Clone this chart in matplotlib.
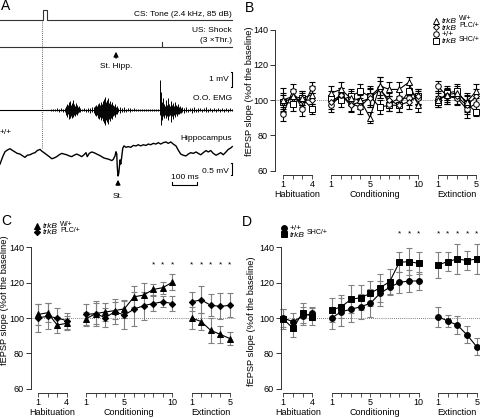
import numpy as np
import matplotlib
matplotlib.use('Agg')
from matplotlib import pyplot as plt
from matplotlib.lines import Line2D
from matplotlib.transforms import blended_transform_factory

plt.rcParams['font.family'] = ['Liberation Sans', 'DejaVu Sans']

W, H = 480, 418

# ---------------- panel A traces (time in ms, amplitude in mV) ----------------
cs_on_ms, cs_off_ms = 172, 188
shock_ms = 648
stim_hipp_ms = 464
stim_ms = 472
trace_end_ms = 928

hipp_t = [0, 11, 20, 29, 40, 51, 60, 69, 80, 91, 100, 109, 120, 131, 140, 149, 160, 168, 176, 187,
          197, 207, 216, 227, 237, 247, 256, 267, 277, 287, 296, 307, 317, 327, 336, 344, 349, 357, 367, 376,
          387, 397, 407, 416, 427, 437, 447, 453, 460, 464, 467, 469, 472, 475, 477, 480, 483, 487, 491, 496,
          504, 513, 523, 533, 544, 553, 563, 573, 584, 593, 603, 613, 624, 633, 643, 653, 664, 673, 683, 693,
          704, 713, 723, 733, 744, 753, 763, 773, 784, 793, 803, 813, 824, 833, 843, 853, 864, 873, 883, 893,
          904, 913, 923, 929]
hipp_mv = [-0.39, -0.07, 0.14, 0.21, 0.27, 0.19, 0.13, 0.07, 0.04, -0.04, -0.10, -0.01, 0.01, 0.07, 0.10, 0.19,
           0.24, 0.16, 0.10, 0.01, -0.07, -0.16, -0.13, -0.07, 0.01, 0.07, 0.04, 0.01, -0.04, -0.07, -0.01, 0.04,
           -0.01, -0.07, 0.01, 0.10, -0.07, 0.07, 0.13, 0.10, 0.04, -0.01, -0.07, -0.13, -0.16, -0.19, -0.24, -0.19,
           -0.04, 0.14, 0.04, -0.50, -0.90, -0.79, -0.57, -0.21, -0.39, -0.07, 0.29, 0.39, 0.33, 0.36, 0.33, 0.41,
           0.39, 0.44, 0.39, 0.44, 0.41, 0.47, 0.44, 0.50, 0.47, 0.53, 0.47, 0.53, 0.56, 0.50, 0.56, 0.47,
           0.39, 0.21, 0.04, -0.01, -0.04, 0.04, 0.10, 0.07, 0.13, 0.07, 0.01, 0.10, 0.19, 0.13, 0.19, 0.07,
           -0.01, 0.04, 0.10, 0.01, 0.13, 0.24, 0.30, 0.36]

emg_pre_t = [204, 212, 220, 228, 236, 244, 252]
emg_pre_up = [0.07, 0.1, 0.07, 0.14, 0.1, 0.14, 0.1]
emg_pre_dn = [0.07, 0.07, 0.1, 0.1, 0.14, 0.1, 0.14]
emg_b1_t = [260, 264, 268, 272, 276, 280, 284, 288, 292, 296, 300, 304, 308, 312, 316, 320]
emg_b1_up = [0.14, 0.28, 0.42, 0.35, 0.56, 0.63, 0.35, 0.49, 0.70, 0.42, 0.28, 0.49, 0.35, 0.21, 0.28, 0.14]
emg_b1_dn = [0.14, 0.35, 0.49, 0.28, 0.63, 0.56, 0.42, 0.56, 0.49, 0.35, 0.42, 0.28, 0.35, 0.21, 0.14, 0.14]
emg_gap_t = [328, 336, 344, 352, 360, 368]
emg_gap_up = [0.1, 0.14, 0.1, 0.17, 0.14, 0.2]
emg_gap_dn = [0.1, 0.1, 0.14, 0.14, 0.2, 0.17]
emg_b2_t = [376, 380, 384, 388, 392, 396, 400, 404, 408, 412, 416, 420, 424, 428, 432, 436, 440, 444, 448,
            452, 456, 460, 464, 468, 472]
emg_b2_up = [0.21, 0.28, 0.35, 0.28, 0.42, 0.49, 0.35, 0.56, 0.42, 0.63, 0.77, 0.91, 0.56, 0.70, 0.84, 0.49,
             0.63, 0.42, 0.56, 0.35, 0.28, 0.42, 0.21, 0.28, 0.14]
emg_b2_dn = [0.21, 0.35, 0.42, 0.35, 0.56, 0.63, 0.49, 0.70, 0.56, 0.77, 0.91, 1.05, 0.70, 0.84, 0.98, 0.63,
             0.77, 0.56, 0.63, 0.42, 0.35, 0.49, 0.28, 0.28, 0.14]
emg_mid_t = [480, 488, 496, 504, 512, 520, 528, 536, 544, 552, 560, 568, 576, 584, 592, 600, 608, 616, 624, 632]
emg_mid_up = [0.21, 0.14, 0.2, 0.1, 0.14, 0.17, 0.1, 0.14, 0.1, 0.07, 0.1, 0.07, 0.05, 0.07, 0.05, 0.05,
              0.05, 0.07, 0.05, 0.07]
emg_mid_dn = [0.2, 0.17, 0.14, 0.14, 0.1, 0.14, 0.1, 0.1, 0.07, 0.1, 0.07, 0.05, 0.07, 0.05, 0.05, 0.05,
              0.07, 0.05, 0.05, 0.05]
emg_us_t = [640, 644, 648, 652, 656, 660, 664, 668, 672, 676, 680, 684, 688, 692, 696, 700, 704, 708, 712,
            716, 720, 724]
emg_us_up = [2.1, 1.26, 0.56, 0.84, 0.42, 0.28, 0.7, 0.35, 0.84, 0.42, 0.28, 0.63, 0.35, 0.49, 0.28, 0.56,
             0.35, 0.28, 0.42, 0.21, 0.28, 0.14]
emg_us_dn = [0.35, 1.05, 0.7, 0.42, 0.56, 0.35, 0.56, 0.42, 0.7, 0.42, 0.35, 0.84, 0.42, 0.63, 0.35, 0.49,
             0.28, 0.42, 0.28, 0.28, 0.21, 0.21]
emg_tail_t = [728, 736, 744, 752, 760, 768, 776, 784, 792, 800, 808, 816, 824, 832, 840, 848, 856, 864, 872,
              880, 888, 896, 904, 912, 920, 928]
emg_tail_up = [0.2, 0.14, 0.21, 0.1, 0.17, 0.14, 0.2, 0.1, 0.14, 0.17, 0.1, 0.14, 0.2, 0.1, 0.14, 0.1, 0.17,
               0.1, 0.14, 0.1, 0.12, 0.1, 0.14, 0.1, 0.12, 0.1]
emg_tail_dn = [0.17, 0.2, 0.14, 0.17, 0.1, 0.2, 0.14, 0.14, 0.17, 0.1, 0.14, 0.1, 0.17, 0.14, 0.1, 0.14, 0.1,
               0.14, 0.1, 0.12, 0.1, 0.14, 0.1, 0.12, 0.1, 0.1]

# ---------------- panels B-D: fEPSP slope (% of baseline) ----------------
hab_sessions = [1, 2, 3, 4]
cond_sessions = [1, 2, 3, 4, 5, 6, 7, 8, 9, 10]
ext_sessions = [1, 2, 3, 4, 5]
group_names = ['Habituation', 'Conditioning', 'Extinction']
group_ticklabels = [[1, 4], [1, 5, 10], [1, 5]]

# panel B (all four genotypes)
b_w = [100, 102, 101, 103, 104, 106, 101, 100, 90, 108, 106, 106, 110, 97, 100, 103, 104, 99, 105]
b_w_err = [7, 4, 4, 5, 4, 4, 4, 5, 3, 5, 4, 4, 3, 4, 4, 4, 4, 5, 4]
b_plc = [99, 101, 100, 100, 99, 103, 97, 99, 101, 106, 100, 97, 99, 102, 101, 102, 102, 97, 102]
b_plc_err = [5, 4, 4, 4, 4, 4, 4, 4, 5, 5, 4, 4, 4, 4, 4, 4, 4, 5, 4]
b_wt = [92, 105, 95, 107, 97, 103, 98, 96, 102, 107, 98, 101, 101, 101, 108, 102, 101, 95, 98]
b_wt_err = [4, 4, 4, 3, 4, 4, 4, 4, 6, 6, 4, 4, 4, 4, 3, 4, 4, 5, 4]
b_shc = [99, 98, 101, 95, 101, 100, 102, 105, 102, 96, 97, 97, 105, 102, 99, 104, 105, 98, 93]
b_shc_err = [4, 4, 4, 3, 4, 4, 4, 4, 5, 4, 3, 4, 4, 4, 3, 4, 4, 5, 2]

# panel C
c_w = [102, 103, 96, 97, 99.5, 102.5, 103.4, 104.2, 105.2, 112, 113, 116.2, 117.2, 120.3, 100, 98, 93, 90.7, 88.3]
c_w_err = [6, 5.5, 4.5, 4, 4, 6, 5, 5, 5, 6, 7, 3, 3.5, 4.5, 6, 5, 7, 5, 3.8]
c_plc = [100, 101, 100, 98.5, 102, 102.5, 100.2, 103.5, 101.7, 105, 107, 108.2, 109.2, 108.2, 109.2, 110.3, 107.2,
         106.6, 107.2]
c_plc_err = [8, 7.5, 5.5, 4.5, 6, 7, 5.5, 7, 8, 9.5, 8, 4, 3, 4.5, 5.5, 7.6, 6.2, 7.4, 6.8]
c_sig = [('cond', 8), ('cond', 9), ('cond', 10), ('ext', 1), ('ext', 2), ('ext', 3), ('ext', 4), ('ext', 5)]

# panel D
d_wt = [100, 97.9, 101.1, 102.6, 100, 103.6, 104.9, 106.4, 108.3, 114, 117.4, 120.2, 121, 121, 100.8, 98.3, 96,
        90.4, 83.7]
d_wt_err = [5, 4.7, 5, 3.8, 6.4, 8, 7, 7, 8, 7, 4.5, 6, 6, 5, 5.7, 3.3, 5, 4.8, 4.7]
d_shc = [99.5, 94.1, 103, 100.8, 104.5, 106.4, 110.6, 111.5, 114, 117.2, 120.6, 131.6, 132, 131, 130.1, 132,
         133.5, 132.6, 133.5]
d_shc_err = [5.5, 4.7, 5.7, 4.8, 7, 6.6, 8, 7.2, 7.2, 8, 7, 5.7, 7.5, 6.3, 7.5, 5.6, 8.3, 5.4, 8.3]
d_sig = [('cond', 8), ('cond', 9), ('cond', 10), ('ext', 1), ('ext', 2), ('ext', 3), ('ext', 4), ('ext', 5)]

# legend labels: (italic gene name, superscript allele)
LBL_W = ('trkB', 'W/+')
LBL_PLC = ('trkB', 'PLC/+')
LBL_WT = ('', '+/+')
LBL_SHC = ('trkB', 'SHC/+')

# group starts on a shared axis: 2-unit gap between phases
group_start = {'hab': 1, 'cond': 6, 'ext': 17}
hab_x = [group_start['hab'] + s - 1 for s in hab_sessions]
cond_x = [group_start['cond'] + s - 1 for s in cond_sessions]
ext_x = [group_start['ext'] + s - 1 for s in ext_sessions]
groups_x = [hab_x, cond_x, ext_x]
PX_PER_UNIT = 1.7625  # vertical pixels per % unit


def fx(px):
    return px / W


def fy(py):
    return 1 - py / H


def make_axes(left, right, y100, xlo, xhi):
    top = y100 - 50 * PX_PER_UNIT
    bottom = y100 + 55 * PX_PER_UNIT
    ax = fig.add_axes([fx(left), fy(bottom), fx(right - left), (bottom - top) / H])
    ax.set_xlim(xlo, xhi)
    ax.set_ylim(45, 150)
    for s in ['top', 'right', 'bottom']:
        ax.spines[s].set_visible(False)
    ax.spines['left'].set_bounds(60, 140)
    ax.spines['left'].set_linewidth(0.7)
    ax.spines['left'].set_color('#333333')
    ax.set_yticks([60, 80, 100, 120, 140])
    ax.tick_params(axis='y', length=3.5, width=0.7, pad=1.5, labelsize=6.5, colors='#333333')
    ax.tick_params(axis='y', labelcolor='black')
    ax.set_xticks([])
    ax.patch.set_alpha(0)
    ax.axhline(100, color='#555555', lw=0.6, ls=(0, (1, 1.5)), zorder=0)
    # phase axes below the data
    for xs, name, labs in zip(groups_x, group_names, group_ticklabels):
        ax.plot([xs[0], xs[-1]], [57.3, 57.3], color='#333333', lw=0.7, clip_on=False)
        ax.vlines(xs, 55.3, 57.3, color='#333333', lw=0.6, clip_on=False)
        for lab in labs:
            ax.text(xs[lab - 1], 52.3, str(lab), ha='center', va='center', fontsize=6.5)
        ax.text((xs[0] + xs[-1]) / 2, 46.5, name, ha='center', va='center', fontsize=6.5)
    return ax


def plot_series(ax, y, err, marker, ms, filled, ecolor):
    for xs, sl in zip(groups_x, [slice(0, 4), slice(4, 14), slice(14, 19)]):
        ax.errorbar(xs, y[sl], yerr=err[sl], fmt='none', ecolor=ecolor, elinewidth=0.8,
                    capsize=2, capthick=0.8, zorder=2, clip_on=False)
        ax.plot(xs, y[sl], color='black', lw=0.8, marker=marker, ms=ms,
                mfc='black' if filled else 'white', mec='black', mew=0.7, zorder=3, clip_on=False)


def add_ylabel(ax, xa, yv):
    tr = blended_transform_factory(ax.transAxes, ax.transData)
    ax.text(xa, yv, 'fEPSP slope (%of the baseline)', transform=tr, rotation=90,
            ha='center', va='center', fontsize=6.7)


def legend_rows(rows, x_marker, x_text, filled):
    for marker, ms, (gene, allele), ypx in rows:
        fig.add_artist(Line2D([fx(x_marker)], [fy(ypx)], marker=marker, ms=ms, ls='none',
                              mfc='black' if filled else 'white', mec='black', mew=0.7,
                              transform=fig.transFigure))
        if gene:
            fig.text(fx(x_text), fy(ypx + 2.5), gene, ha='left', va='baseline', fontsize=6, style='italic')
            fig.text(fx(x_text + 17), fy(ypx), allele, ha='left', va='baseline', fontsize=5)
        else:
            fig.text(fx(x_text), fy(ypx + 2.5), allele, ha='left', va='baseline', fontsize=6)


fig = plt.figure(figsize=(4.8, 4.18), dpi=100)

# ---------------- panel A ----------------
ax_a = fig.add_axes([0, fy(200), fx(240), 200 / H])
ax_a.set_xlim(0, 960)
ax_a.set_ylim(200, 0)
ax_a.axis('off')
tone_y, shock_y, emg_y, hipp_y = 20, 47, 110, 155
emg_px_per_mv, hipp_px_per_mv = 14.3, 23.3
ax_a.plot([0, cs_on_ms, cs_on_ms, cs_off_ms, cs_off_ms, trace_end_ms],
          [tone_y, tone_y, tone_y - 10, tone_y - 10, tone_y, tone_y], color='#333333', lw=0.8)
ax_a.plot([0, trace_end_ms], [shock_y, shock_y], color='#333333', lw=0.8)
ax_a.plot([shock_ms, shock_ms], [shock_y, shock_y - 5], color='#333333', lw=0.8)
ax_a.plot([cs_on_ms - 4, cs_on_ms - 4], [tone_y, 148], color='#333333', lw=0.6, ls=(0, (1, 1.5)))
ax_a.text(trace_end_ms, 14, 'CS: Tone (2.4 kHz, 85 dB)', ha='right', va='center', fontsize=6)
ax_a.text(trace_end_ms, 31, 'US: Shock', ha='right', va='center', fontsize=6)
ax_a.text(trace_end_ms, 41, '(3 \u00d7Thr.)', ha='right', va='center', fontsize=6)
ax_a.annotate('', xy=(stim_hipp_ms, 49), xytext=(stim_hipp_ms, 61),
              arrowprops=dict(arrowstyle='-|>', color='black', lw=0.9, mutation_scale=7))
ax_a.text(stim_hipp_ms, 67, 'St. Hipp.', ha='center', va='center', fontsize=6)

emg_t = emg_pre_t + emg_b1_t + emg_gap_t + emg_b2_t + emg_mid_t + emg_us_t + emg_tail_t
emg_up = emg_pre_up + emg_b1_up + emg_gap_up + emg_b2_up + emg_mid_up + emg_us_up + emg_tail_up
emg_dn = emg_pre_dn + emg_b1_dn + emg_gap_dn + emg_b2_dn + emg_mid_dn + emg_us_dn + emg_tail_dn
ax_a.plot([0, trace_end_ms], [emg_y, emg_y], color='black', lw=0.8)
ax_a.vlines(emg_t, emg_y + np.array(emg_dn) * emg_px_per_mv, emg_y - np.array(emg_up) * emg_px_per_mv,
            color='black', lw=0.7)
ax_a.text(trace_end_ms, 99, 'O.O. EMG', ha='right', va='center', fontsize=6)
# 1 mV scale
ax_a.plot([trace_end_ms - 6, trace_end_ms, trace_end_ms, trace_end_ms - 6],
          [72.3, 72.3, 72.3 + emg_px_per_mv, 72.3 + emg_px_per_mv], color='black', lw=0.8)
ax_a.text(trace_end_ms - 14, 79.5, '1 mV', ha='right', va='center', fontsize=6)

ax_a.text(0, 132, '+/+', ha='left', va='center', fontsize=6)
ax_a.text(trace_end_ms, 138, 'Hippocampus', ha='right', va='center', fontsize=6)
ax_a.plot(hipp_t, hipp_y - np.array(hipp_mv) * hipp_px_per_mv, color='black', lw=1.0)
ax_a.plot([trace_end_ms - 6, trace_end_ms, trace_end_ms, trace_end_ms - 6],
          [163.3, 163.3, 163.3 + 0.5 * hipp_px_per_mv, 163.3 + 0.5 * hipp_px_per_mv], color='black', lw=0.8)
ax_a.text(trace_end_ms - 14, 171, '0.5 mV', ha='right', va='center', fontsize=6)
ax_a.plot([688, 688, 788, 788], [182, 185, 185, 182], color='black', lw=0.8)
ax_a.text(738, 177, '100 ms', ha='center', va='center', fontsize=6)
ax_a.annotate('', xy=(stim_ms, 177), xytext=(stim_ms, 188),
              arrowprops=dict(arrowstyle='-|>', color='black', lw=0.9, mutation_scale=7))
ax_a.text(stim_ms, 196, 'St.', ha='center', va='center', fontsize=6)

# ---------------- panel B ----------------
ax_b = make_axes(275, 480, 100, 0.175, 21.375)
plot_series(ax_b, b_shc, b_shc_err, 's', 4, False, 'black')
plot_series(ax_b, b_wt, b_wt_err, 'o', 4, False, 'black')
plot_series(ax_b, b_plc, b_plc_err, 'D', 3, False, 'black')
plot_series(ax_b, b_w, b_w_err, '^', 4.2, False, 'black')
add_ylabel(ax_b, -0.122, 105)
legend_rows([('^', 4.2, LBL_W, 20.5), ('D', 3, LBL_PLC, 27.2), ('o', 4, LBL_WT, 33.8), ('s', 4, LBL_SHC, 40.7)],
            436, 442, False)

# ---------------- panel C ----------------
ax_c = make_axes(31, 236, 318, 0.271, 21.63)
plot_series(ax_c, c_plc, c_plc_err, 'D', 3.2, True, '#808080')
plot_series(ax_c, c_w, c_w_err, '^', 4.5, True, '#808080')
for grp, s in c_sig:
    xs = cond_x if grp == 'cond' else ext_x
    ax_c.text(xs[s - 1], 130, '*', ha='center', va='center', fontsize=6)
add_ylabel(ax_c, -0.13, 110)
legend_rows([('^', 4.5, LBL_W, 225.5), ('D', 3.2, LBL_PLC, 231.7)], 37, 43, True)

# ---------------- panel D ----------------
ax_d = make_axes(281, 480, 318, 0.762, 21.34)
plot_series(ax_d, d_wt, d_wt_err, 'o', 4.2, True, '#808080')
plot_series(ax_d, d_shc, d_shc_err, 's', 4.2, True, '#808080')
for grp, s in d_sig:
    xs = cond_x if grp == 'cond' else ext_x
    ax_d.text(xs[s - 1], 148, '*', ha='center', va='center', fontsize=6)
add_ylabel(ax_d, -0.15, 98)
legend_rows([('o', 4.2, LBL_WT, 227.7), ('s', 4.2, LBL_SHC, 234.3)], 284, 290, True)

# panel letters
for letter, px, py in [('A', 1, 6), ('B', 245, 8), ('C', 1, 221), ('D', 242, 222)]:
    fig.text(fx(px), fy(py), letter, ha='left', va='center', fontsize=10)

fig.savefig('out.png', dpi=100)
